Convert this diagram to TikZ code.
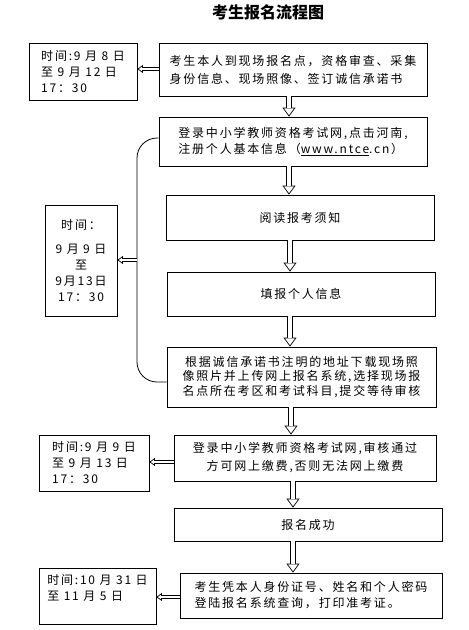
\documentclass[tikz,border=0pt]{standalone}
\usepackage{fontspec}
\setmainfont{Noto Sans CJK SC}[LetterSpace=15]
\newfontfamily\titlefont{Noto Sans CJK SC}
\usetikzlibrary{arrows.meta,positioning}

\begin{document}
\begin{tikzpicture}[x=1pt, y=-1pt,
    box/.style={rectangle, draw, line width=0.8pt, font=\fontsize{12}{16}\selectfont},
    flowhead/.style={line width=0.7pt, -{Triangle[width=13pt, length=9pt, fill=white]}},
    flowshaft/.style={double, double distance=4.6pt, line width=0.7pt, shorten >=8.5pt},
    sidehead/.style={line width=0.7pt, -{Triangle[width=8pt, length=5.5pt, fill=white]}},
    sideshaft/.style={double, double distance=2.6pt, line width=0.7pt, shorten >=5pt}]
    \useasboundingbox (0,0) rectangle (469,630);

    % Title
    \node[font=\titlefont\bfseries\fontsize{16}{20}\selectfont] (title) at (268,12) {考生报名流程图};

    % Main steps
    \node[box, minimum width=268, minimum height=53, align=left] (onsite) at (293,69.5) {考生本人到现场报名点，资格审查、采集\\[2pt]身份信息、现场照像、签订诚信承诺书};
    \node[box, minimum width=268, minimum height=49, align=left] (register) at (293,141.5) {登录中小学教师资格考试网,点击河南,\\注册个人基本信息（\underline{www.ntce}.cn）};
    \node[box, minimum width=268, minimum height=45] (notice) at (300,217.5) {阅读报考须知};
    \node[box, minimum width=268, minimum height=44] (fillin) at (301,294) {填报个人信息};
    \node[box, minimum width=269, minimum height=60, align=center, font=\fontsize{12}{14.5}\selectfont] (upload) at (301.5,377) {根据诚信承诺书注明的地址下载现场照\\像照片并上传网上报名系统,选择现场报\\名点所在考区和考试科目,提交等待审核};
    \node[box, minimum width=262, minimum height=46, align=center] (payment) at (305,458) {登录中小学教师资格考试网,审核通过\\[2pt]方可网上缴费,否则无法网上缴费};
    \node[box, minimum width=268, minimum height=33] (success) at (308,524.5) {报名成功};
    \node[box, minimum width=262, minimum height=45, align=left] (ticket) at (311,595.5) {考生凭本人身份证号、姓名和个人密码\\登陆报名系统查询，打印准考证。};

    % Time boxes
    \node[box, minimum width=108, minimum height=57, align=left] (onsitetime) at (83,71.5) {时间:9 月 8 日\\至 9 月 12 日\\17：30};
    \node[box, minimum width=72, minimum height=111, align=center] (onlinetime) at (81,260.5) {时间：\\[8pt]9 月 9 日\\至\\9月13日\\17：30};
    \node[box, minimum width=110, minimum height=56, align=left] (paytime) at (94,463) {时间:9 月 9 日\\至 9 月 13 日\\17：30};
    \node[box, minimum width=117, minimum height=56, align=left, text depth=18pt] (tickettime) at (97.5,596) {时间:10 月 31 日\\至 11 月 5 日};

    % Flow arrows (head first, shaft over its base)
    \foreach \a/\b/\x in {onsite/register/289, register/notice/289, notice/fillin/290, fillin/upload/290,
                          upload/payment/291, payment/success/293, success/ticket/293} {
        \draw[flowhead] ([yshift=9pt]\b.north -| \x,0) -- (\b.north -| \x,0);
        \draw[flowshaft] (\a.south -| \x,0) -- (\b.north -| \x,0);
    }

    % Bracket over the online steps
    \coordinate (bracket) at (137,260);
    \draw[line width=0.8pt, rounded corners=20pt] ([yshift=3.5pt]register.west) -| (bracket) |- ([yshift=-5pt]upload.west);

    % Arrows to the time boxes
    \foreach \a/\b/\s in {onsite/onsitetime/0.5pt, bracket/onlinetime/0pt, payment/paytime/-4pt, ticket/tickettime/-1.5pt} {
        \draw[sidehead] ([yshift=\s, xshift=5.5pt]\a.west -| \b.east) -- ([yshift=\s]\a.west -| \b.east);
        \draw[sideshaft] ([yshift=\s]\a.west) -- ([yshift=\s]\a.west -| \b.east);
    }
\end{tikzpicture}
\end{document}
